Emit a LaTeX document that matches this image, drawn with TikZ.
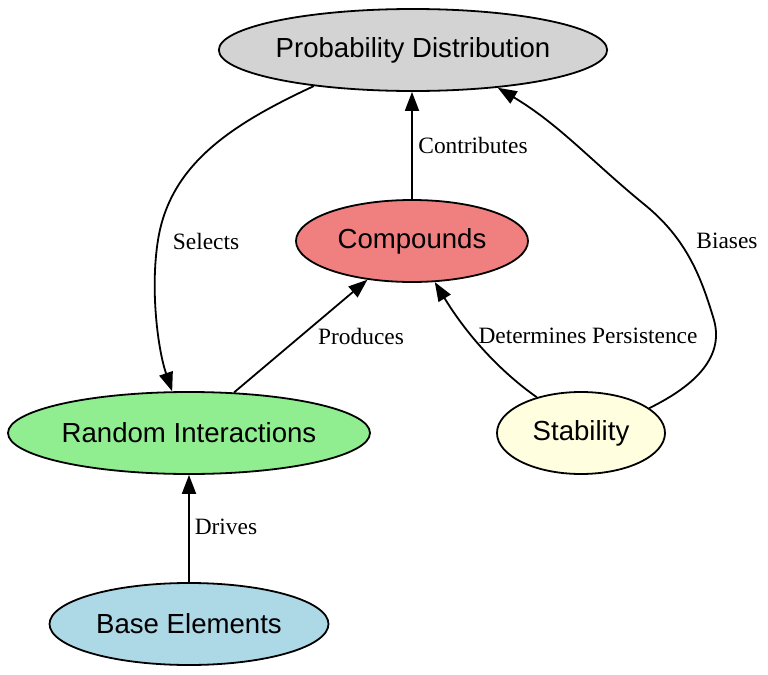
\documentclass[tikz,border=0pt]{standalone}
\usepackage{fontspec}
\setmainfont{Liberation Serif}
\newfontfamily\conceptfont{Liberation Sans}
\usetikzlibrary{arrows.meta,
                shapes.geometric}
\definecolor{distgray}{HTML}{D3D3D3}
\definecolor{compred}{HTML}{F08080}
\definecolor{interactgreen}{HTML}{90EE90}
\definecolor{stabyellow}{HTML}{FFFFE0}
\definecolor{baseblue}{HTML}{ADD8E6}

\begin{document}
\begin{tikzpicture}[x=0.5pt,y=-0.5pt,
  concept/.style={ellipse,draw,line width=0.9pt,inner sep=0pt,minimum height=41pt,
                  font=\conceptfont\fontsize{13.8}{16}\selectfont},
  link/.style={line width=0.9pt,-{Triangle[length=9.5pt,width=7pt]}},
  edgelabel/.style={font=\fontsize{11.7}{14}\selectfont,inner sep=0pt}]
 \useasboundingbox (0,0) rectangle (768,675);
 % nodes
 \node[concept,fill=distgray,minimum width=194pt] (pd) at (413,50) {Probability Distribution};
 \node[concept,fill=compred,minimum width=116pt] (cp) at (412,241) {Compounds};
 \node[concept,fill=interactgreen,minimum width=181pt] (ri) at (189,433) {Random Interactions};
 \node[concept,fill=stabyellow,minimum width=84pt] (st) at (581,433) {Stability};
 \node[concept,fill=baseblue,minimum width=139.5pt] (be) at (189,624) {Base Elements};
 % connectors
 \draw[link] (be) -- (ri);
 \draw[link] (ri.42) -- (cp.221);
 \draw[link] (cp.north) -- (cp.north |- pd.south);
 \draw[link] (st.141) .. controls (505,375) and (470,340) .. (cp.-61);
 \draw[link] (pd.200) .. controls (230,125) and (170,165) .. (158,240)
                      .. controls (150,290) and (158,350) .. (ri.112);
 \draw[link] (st.20) .. controls (690,388) and (725,360) .. (714,320)
                     .. controls (702,280) and (688,240) .. (645,205)
                     .. controls (590,160) and (560,125) .. (pd.-24);
 % labels
 \node[edgelabel] (drives) at (226,527) {Drives};
 \node[edgelabel] (produces) at (361,336) {Produces};
 \node[edgelabel] (contributes) at (473,145) {Contributes};
 \node[edgelabel] (persist) at (588,336) {Determines Persistence};
 \node[edgelabel] (selects) at (206,241) {Selects};
 \node[edgelabel] (biases) at (727,241) {Biases};
\end{tikzpicture}
\end{document}
